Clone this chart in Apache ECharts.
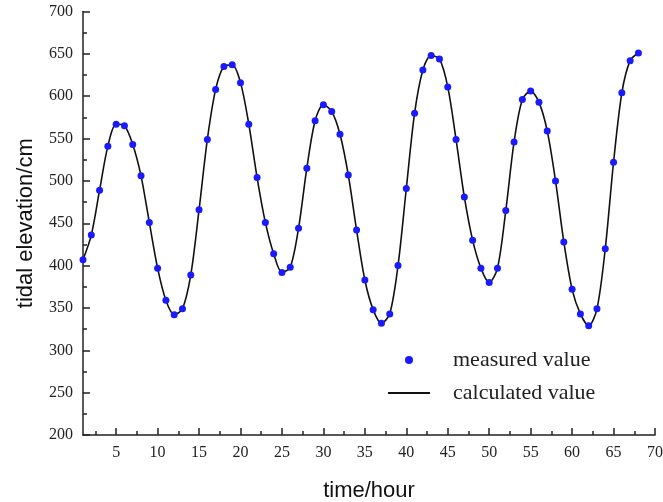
<!DOCTYPE html>
<html>
<head>
<meta charset="utf-8">
<script src="https://cdn.jsdelivr.net/npm/echarts@6/dist/echarts.min.js"></script>
<style>
html,body{margin:0;padding:0;background:#fff;}
#chart{width:663px;height:502px;}
</style>
</head>
<body>
<div id="chart"></div>
<script>
var hours = [1,2,3,4,5,6,7,8,9,10,11,12,13,14,15,16,17,18,19,20,21,22,23,24,25,26,27,28,29,30,31,32,33,34,35,36,37,38,39,40,41,42,43,44,45,46,47,48,49,50,51,52,53,54,55,56,57,58,59,60,61,62,63,64,65,66,67,68];
var measured = [407,436,489,541,567,565,543,506,451,397,359,342,349,389,466,549,608,635,637,616,567,504,451,414,392,398,444,515,571,590,582,555,507,442,383,348,332,343,400,491,580,631,648,644,611,549,481,430,397,380,397,465,546,596,606,593,559,500,428,372,343,329,349,420,522,604,642,651];
var calculated = [407,436,489,541,567,565,543,506,451,397,359,342,349,389,466,549,608,635,637,616,567,504,451,414,392,398,444,515,571,590,582,555,507,442,383,348,332,343,400,491,580,631,648,644,611,549,481,430,397,380,397,465,546,596,606,593,559,500,428,372,343,329,349,420,522,604,642,651];
var xMajorTicks = [5,10,15,20,25,30,35,40,45,50,55,60,65,70];
var xMinorTicks = [2.5,7.5,12.5,17.5,22.5,27.5,32.5,37.5,42.5,47.5,52.5,57.5,62.5,67.5];

function pairs(xs, ys){ return xs.map(function(x,i){ return [x, ys[i]]; }); }

var chart = echarts.init(document.getElementById('chart'), null, {renderer:'canvas'});
var axisColor = '#222';
var serif = 'Liberation Serif';
chart.setOption({
  animation:false,
  backgroundColor:'#ffffff',
  grid:{left:83, right:8, top:11.5, bottom:67, containLabel:false, outerBoundsMode:'none'},
  legend:{
    orient:'vertical',
    left:383, top:344,
    itemWidth:42, itemHeight:8, itemGap:11,
    textStyle:{fontFamily:serif, fontSize:22, color:'#222', padding:[0,0,0,18]},
    data:[
      {name:'measured value', icon:'circle'},
      {name:'calculated value', icon:'path://M0,0 L42,0 L42,2 L0,2 Z', itemStyle:{color:'#111'}}
    ]
  },
  xAxis:[{
    type:'value', min:1, max:70,
    name:'time/hour', nameLocation:'middle', nameGap:45,
    nameTextStyle:{fontFamily:'Liberation Sans', fontSize:22, color:'#111'},
    axisLine:{show:true, lineStyle:{color:axisColor, width:1.5}},
    axisTick:{show:true, inside:true, length:7, customValues:xMajorTicks, lineStyle:{color:axisColor, width:1.5}},
    axisLabel:{show:true, customValues:xMajorTicks, margin:10, fontFamily:serif, fontSize:16, color:'#222'},
    splitLine:{show:false}
  },{
    type:'value', min:1, max:70, gridIndex:0, position:'bottom',
    axisLine:{show:false},
    axisTick:{show:true, inside:true, length:4, customValues:xMinorTicks, lineStyle:{color:axisColor, width:1.5}},
    axisLabel:{show:false},
    splitLine:{show:false}
  }],
  yAxis:{
    type:'value', min:200, max:700, interval:50,
    name:'tidal elevation/cm', nameLocation:'middle', nameGap:46,
    nameTextStyle:{fontFamily:'Liberation Sans', fontSize:22, color:'#111'},
    axisLine:{show:true, lineStyle:{color:axisColor, width:1.5}},
    axisTick:{show:true, inside:true, length:7, lineStyle:{color:axisColor, width:1.5}},
    minorTick:{show:true, splitNumber:2, length:4, lineStyle:{color:axisColor, width:1.5}},
    axisLabel:{margin:10, fontFamily:serif, fontSize:16, color:'#222'},
    splitLine:{show:false}
  },
  series:[{
    name:'calculated value', type:'line', xAxisIndex:0,
    data:pairs(hours, calculated),
    smooth:0.3, symbol:'none', showSymbol:false,
    lineStyle:{color:'#111', width:1.6},
    itemStyle:{color:'#111'},
    z:2
  },{
    name:'measured value', type:'scatter', xAxisIndex:0,
    data:pairs(hours, measured),
    symbol:'circle', symbolSize:7,
    itemStyle:{color:'#1a1aff', opacity:1},
    z:3
  }]
});
</script>
</body>
</html>
